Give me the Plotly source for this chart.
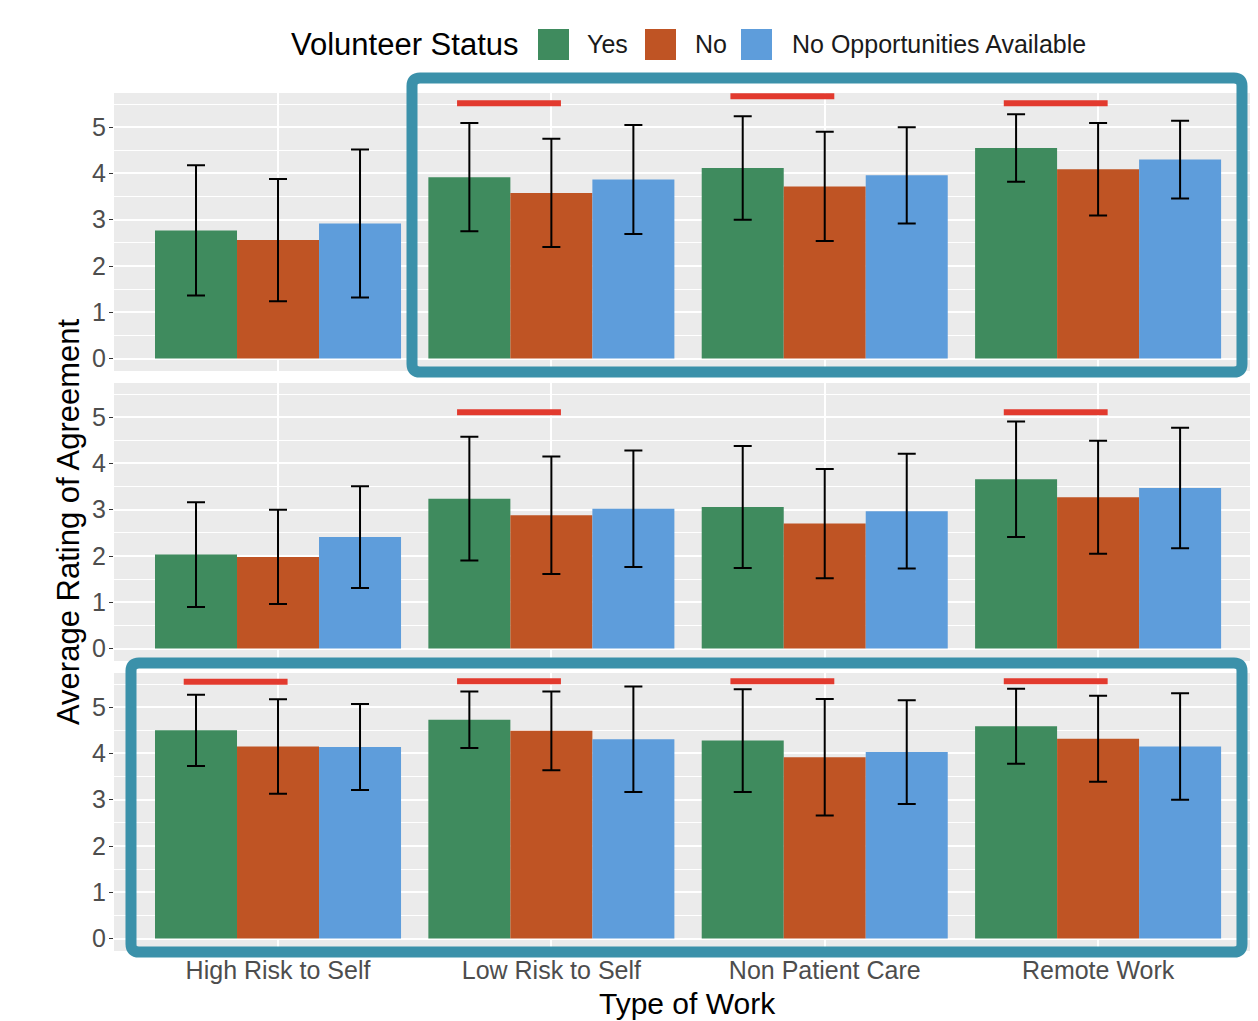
import plotly.graph_objects as go
from plotly.subplots import make_subplots

# ---------------- data ----------------
categories = ["High Risk to Self", "Low Risk to Self", "Non Patient Care", "Remote Work"]
groups = ["Yes", "No", "No Opportunities Available"]
colors = ["#3F8B5E", "#BF5424", "#5E9DDB"]

# top row
top_yes = [2.77, 3.92, 4.12, 4.55]
top_yes_sd = [1.41, 1.17, 1.12, 0.73]
top_no = [2.56, 3.58, 3.72, 4.09]
top_no_sd = [1.32, 1.17, 1.18, 1.00]
top_noa = [2.92, 3.87, 3.96, 4.30]
top_noa_sd = [1.60, 1.18, 1.04, 0.84]

# middle row
mid_yes = [2.03, 3.24, 3.06, 3.66]
mid_yes_sd = [1.13, 1.34, 1.32, 1.25]
mid_no = [1.98, 2.88, 2.70, 3.27]
mid_no_sd = [1.02, 1.27, 1.18, 1.22]
mid_noa = [2.41, 3.02, 2.97, 3.47]
mid_noa_sd = [1.10, 1.26, 1.24, 1.30]

# bottom row
bot_yes = [4.50, 4.73, 4.28, 4.59]
bot_yes_sd = [0.77, 0.61, 1.11, 0.81]
bot_no = [4.15, 4.49, 3.92, 4.32]
bot_no_sd = [1.02, 0.85, 1.26, 0.93]
bot_noa = [4.14, 4.31, 4.03, 4.15]
bot_noa_sd = [0.93, 1.14, 1.12, 1.15]

# significance markers (row, category index, height)
sig_row = [1, 1, 1, 2, 2, 3, 3, 3, 3]
sig_cat = [1, 2, 3, 1, 3, 0, 1, 2, 3]
sig_y = [5.52, 5.67, 5.52, 5.11, 5.11, 5.55, 5.56, 5.56, 5.56]

y_ticks = [0, 1, 2, 3, 4, 5]

rows_data = [
    [(top_yes, top_yes_sd), (top_no, top_no_sd), (top_noa, top_noa_sd)],
    [(mid_yes, mid_yes_sd), (mid_no, mid_no_sd), (mid_noa, mid_noa_sd)],
    [(bot_yes, bot_yes_sd), (bot_no, bot_no_sd), (bot_noa, bot_noa_sd)],
]

# ---------------- figure ----------------
OFF = 8  # page body margin
W, H = 1258 - OFF, 1021 - OFF
ML, MR, MT, MB = 114 - OFF, 0, 93 - OFF, 70
FONT = "Liberation Sans, Arial, sans-serif"

fig = make_subplots(rows=3, cols=1, shared_xaxes=True, vertical_spacing=0.014)

xpos = list(range(len(categories)))
for r, row in enumerate(rows_data, start=1):
    for g, (vals, sds) in enumerate(row):
        fig.add_trace(go.Bar(
            x=xpos, y=vals, name=groups[g],
            marker=dict(color=colors[g], line=dict(width=0)),
            error_y=dict(type="data", array=sds, visible=True,
                         color="black", thickness=2, width=9),
            offsetgroup=str(g), showlegend=False,
        ), row=r, col=1)

# significance segments
for r in (1, 2, 3):
    xs, ys = [], []
    for rr, c, yv in zip(sig_row, sig_cat, sig_y):
        if rr == r:
            xs += [c - 0.345, c + 0.035, None]
            ys += [yv, yv, None]
    fig.add_trace(go.Scatter(x=xs, y=ys, mode="lines",
                             line=dict(color="#E23A2E", width=6),
                             showlegend=False, hoverinfo="skip",
                             cliponaxis=False), row=r, col=1)

plot_h = H - MT - MB
panel = 278
gap = (plot_h - 3 * panel) / 2
doms = [
    [(2 * panel + 2 * gap) / plot_h, 1.0],
    [(panel + gap) / plot_h, (2 * panel + gap) / plot_h],
    [0.0, panel / plot_h],
]

for i in range(3):
    yk = "yaxis" if i == 0 else f"yaxis{i+1}"
    xk = "xaxis" if i == 0 else f"xaxis{i+1}"
    fig.layout[yk].update(
        domain=doms[i], range=[-0.27, 5.74], tickvals=y_ticks,
        showgrid=True, gridcolor="white", gridwidth=1.6, zeroline=False,
        minor=dict(dtick=0.5, tick0=0, showgrid=True, gridcolor="white", gridwidth=0.8),
        ticks="outside", ticklen=4, tickwidth=1.2, tickcolor="#333333",
        tickfont=dict(family=FONT, size=25, color="#4D4D4D"),
        ticklabelstandoff=-2,
        showline=False,
    )
    fig.layout[xk].update(
        range=[-0.6, 3.585], tickvals=xpos, ticktext=categories,
        showgrid=True, gridcolor="white", gridwidth=1.6, zeroline=False,
        showline=False,
        ticks="outside" if i == 2 else "", ticklen=4, tickwidth=1.2, tickcolor="#333333",
        showticklabels=(i == 2),
        ticklabelstandoff=-7,
        tickfont=dict(family=FONT, size=25, color="#4D4D4D"),
    )

fig.update_layout(
    width=W, height=H,
    margin=dict(l=ML, r=MR, t=MT, b=MB),
    paper_bgcolor="white", plot_bgcolor="#EBEBEB",
    barmode="group", bargap=0.1, bargroupgap=0,
    font=dict(family=FONT),
    showlegend=False,
)

pw = W - ML - MR


def X(px):
    return (px - OFF - ML) / pw


def Y(py):
    return (H - MB - (py - OFF)) / plot_h


def rounded_path(x0, y0, x1, y1, rad):
    pts = [
        ("M", [(x0 + rad, y0)]),
        ("L", [(x1 - rad, y0)]),
        ("Q", [(x1, y0), (x1, y0 + rad)]),
        ("L", [(x1, y1 - rad)]),
        ("Q", [(x1, y1), (x1 - rad, y1)]),
        ("L", [(x0 + rad, y1)]),
        ("Q", [(x0, y1), (x0, y1 - rad)]),
        ("L", [(x0, y0 + rad)]),
        ("Q", [(x0, y0), (x0 + rad, y0)]),
    ]
    s = ""
    for cmd, ps in pts:
        s += cmd + " ".join(f"{X(a):.5f},{Y(b):.5f}" for a, b in ps) + " "
    return s + "Z"


box_col = "#3B91AA"
for (bx0, by0, bx1, by1) in [(412, 78, 1242, 372), (131, 663, 1242, 952)]:
    fig.add_shape(type="path", xref="paper", yref="paper",
                  path=rounded_path(bx0, by0, bx1, by1, 8),
                  line=dict(color=box_col, width=11), fillcolor="rgba(0,0,0,0)",
                  layer="above")

# manual legend (ggplot style)
fig.add_annotation(xref="paper", yref="paper", x=X(289), y=Y(44), xanchor="left",
                   yanchor="middle", text="Volunteer Status", showarrow=False,
                   font=dict(family=FONT, size=31, color="black"))
key_x = [538, 645, 741]
lab_x = [585, 693, 790]
for g in range(3):
    fig.add_shape(type="rect", xref="paper", yref="paper",
                  x0=X(key_x[g]), x1=X(key_x[g] + 31), y0=Y(29), y1=Y(60),
                  fillcolor=colors[g], line=dict(width=0))
    fig.add_annotation(xref="paper", yref="paper", x=X(lab_x[g]), y=Y(44),
                       xanchor="left", yanchor="middle", text=groups[g],
                       showarrow=False, font=dict(family=FONT, size=25, color="#1A1A1A"))

# axis titles
fig.add_annotation(xref="paper", yref="paper", x=X(687), y=Y(1022), xanchor="center",
                   yanchor="bottom", text="Type of Work", showarrow=False,
                   font=dict(family=FONT, size=30, color="black"))
fig.add_annotation(xref="paper", yref="paper", x=X(68), y=Y(522), xanchor="center",
                   yanchor="middle", text="Average Rating of Agreement", textangle=-90,
                   showarrow=False, font=dict(family=FONT, size=31, color="black"))

fig.write_html("out.html")
